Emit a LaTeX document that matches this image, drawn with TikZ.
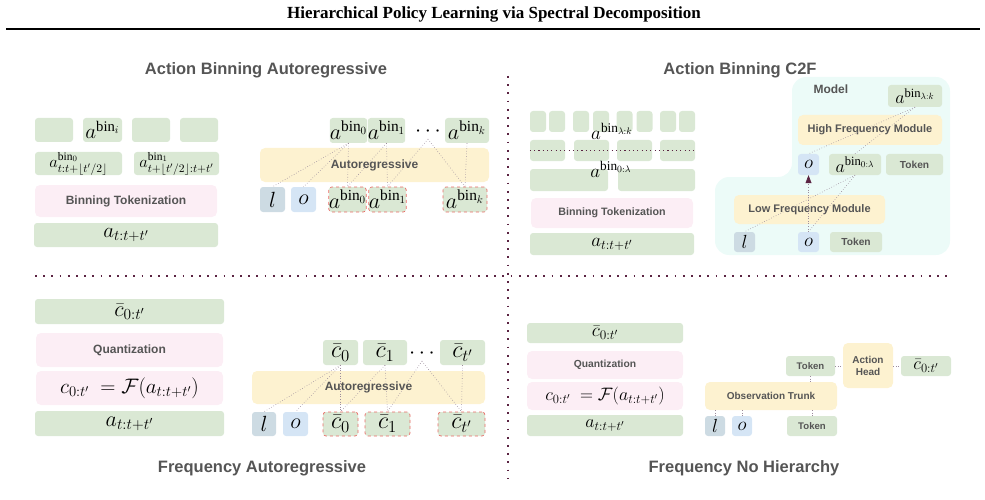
\RequirePackage{fix-cm}
\documentclass[tikz,border=0pt]{standalone}
\usepackage{fontspec}
\setmainfont{Liberation Serif}
\setsansfont{Liberation Sans}
\usetikzlibrary{arrows.meta, positioning}
\definecolor{TokGreen}  {HTML}{DAE8D4}
\definecolor{TokPink}   {HTML}{FCEEF5}
\definecolor{ModYellow} {HTML}{FDF2D0}
\definecolor{LangGray}  {HTML}{CDDBE3}
\definecolor{ObsBlue}   {HTML}{D5E5F5}
\definecolor{ModelCyan} {HTML}{ECFBF8}
\definecolor{MaskRed}   {HTML}{EA6B66}
\definecolor{LinkGray}  {HTML}{9C8C9C}
\definecolor{SepMaroon} {HTML}{5A2342}
\definecolor{LabelGray} {HTML}{555555}
\newcommand{\abin}[1]{a^{\mathrm{bin}_{#1}}}
\newcommand{\cq}[1]{\bar{c}_{#1}}

\begin{document}
\begin{tikzpicture}[x=1pt, y=-1pt,
  boxsize/.style 2 args = {minimum width=#1pt, minimum height=#2pt},
  msz/.style    = {font=\fontsize{#1}{#1}\selectfont},
  lbl/.style    = {font=\sffamily\bfseries\fontsize{#1}{#1}\selectfont, text=LabelGray},
  tok/.style    = {fill=TokGreen, rounded corners=3pt, inner sep=0pt, msz=20},
  lang/.style   = {fill=LangGray, rounded corners=3pt, inner sep=0pt, msz=22},
  obs/.style    = {fill=ObsBlue,  rounded corners=3pt, inner sep=0pt, msz=22},
  mask/.style   = {tok, draw=MaskRed, dashed, line width=0.7pt},
  modbox/.style = {fill=ModYellow, rounded corners=5pt, inner sep=0pt, align=center, lbl=11},
  tkbox/.style  = {fill=TokPink, rounded corners=5pt, inner sep=0pt, lbl=12},
  link/.style   = {LinkGray, dotted, line width=0.6pt},
  sepline/.style= {SepMaroon, line width=1.8pt, dash pattern=on 1.8pt off 6.4pt},
  head/.style   = {lbl=16.5},
]
\useasboundingbox (0,0) rectangle (985,500);

% title and rule
\node[font=\rmfamily\bfseries\fontsize{17}{20}\selectfont] (title) at (494,14)
  {Hierarchical Policy Learning via Spectral Decomposition};
\draw[line width=1.6pt] (6,29) -- (980,29);

% quadrant separators
\draw[sepline] (508,76) -- (508,478);
\draw[sepline] (35,276) -- (950,276);

% headings
\node[head] (hdAR)  at (266,70)  {Action Binning Autoregressive};
\node[head] (hdC2F) at (740,70)  {Action Binning C2F};
\node[head] (hdFAR) at (262,468) {Frequency Autoregressive};
\node[head] (hdFNH) at (744,468) {Frequency No Hierarchy};

% ---- action binning autoregressive: tokenization
\node[tok, boxsize={38}{24}] (bin1) at (54,130) {};
\node[tok, boxsize={39}{24}, msz=21] (bin2) at (102.5,130) {$\abin{i}$};
\node[tok, boxsize={38}{24}] (bin3) at (151,130) {};
\node[tok, boxsize={38}{24}] (bin4) at (199,130) {};
\node[tok, boxsize={87}{23}, msz=16.5] (half0) at (78.5,163.5) {$a^{\mathrm{bin}_0}_{t:t+\lfloor t'/2\rfloor}$};
\node[tok, boxsize={85}{23}, msz=16.5] (half1) at (176.5,163.5) {$a^{\mathrm{bin}_1}_{t+\lfloor t'/2\rfloor:t+t'}$};
\node[tkbox, boxsize={182}{32}] (bintok1) at (126,201) {Binning Tokenization};
\node[tok, boxsize={184}{24}, msz=21] (act1) at (126,235) {$a_{t:t+t'}$};

% ---- action binning autoregressive: model
\node[tok, boxsize={35}{25}, msz=22] (outb0) at (348.5,130.5) {$\abin{0}$};
\node[tok, boxsize={35}{25}, msz=22] (outb1) at (386.5,130.5) {$\abin{1}$};
\node[msz=22, inner sep=2pt] (dotsb) at (428,132) {$\cdots$};
\node[tok, boxsize={44}{25}, msz=22] (outbk) at (467,130.5) {$\abin{k}$};
\node[modbox, boxsize={229}{34}, lbl=12] (arb) at (374.5,165) {Autoregressive};
\node[lang, boxsize={25}{25}] (lb) at (272.5,199.5) {$l$};
\node[obs,  boxsize={25}{25}] (ob) at (303.5,199.5) {$o$};
\node[mask, boxsize={35}{25}, msz=22] (inb0) at (347.5,199.5) {$\abin{0}$};
\node[mask, boxsize={33}{25}, msz=22] (inb1) at (387.5,199.5) {$\abin{1}$};
\node[mask, boxsize={44}{25}, msz=22] (inbk) at (465,199.5) {$\abin{k}$};
\draw[link] (outb0.south) -- (lb.north);
\draw[link] (outb0.south) -- (ob.north);
\draw[link] (outb0.south) -- (inb0.north);
\draw[link] (outb1.south) -- (inb0.north);
\draw[link] (outb1.south) -- (inb1.north);
\draw[link] (dotsb.south) -- (inb1.north);
\draw[link] (dotsb.south) -- (inbk.north);
\draw[link] (outbk.south) -- (inbk.north);

% ---- action binning c2f: tokenization
\foreach \x [count=\i] in {538,557,581,601,624.5,644.5,668,687}
  \node[tok, boxsize={16}{21}] (fine\i) at (\x,121.5) {};
\foreach \x [count=\i] in {547.5,591.5,634.5,677.5}
  \node[tok, boxsize={35}{21}] (mid\i) at (\x,150.5) {};
\node[tok, boxsize={78}{22}] (coarse1) at (569,180) {};
\node[tok, boxsize={77}{22}] (coarse2) at (656.5,180) {};
\draw[SepMaroon, line width=1.1pt, dash pattern=on 1.1pt off 3.2pt] (mid1.west) -- (mid4.east);
\node[msz=19, inner sep=0pt] (hiLbl) at (612,131) {$a^{\mathrm{bin}_{\lambda:k}}$};
\node[msz=19, inner sep=0pt] (loLbl) at (611,169) {$a^{\mathrm{bin}_{0:\lambda}}$};
\node[tkbox, boxsize={162}{30}, lbl=10.7] (bintok2) at (612,213) {Binning Tokenization};
\node[tok, boxsize={164}{22}, msz=19] (act2) at (612,244) {$a_{t:t+t'}$};

% ---- action binning c2f: model
\fill[ModelCyan, rounded corners=14pt] (792,77) -- (950,77) -- (950,255) -- (715,255)
  -- (715,177) -- (792,177) -- cycle;
\node[lbl=12, anchor=west] (model) at (810,89) {Model};
\node[tok, boxsize={54}{22}, msz=18] (hiTok) at (915,96) {$a^{\mathrm{bin}_{\lambda:k}}$};
\node[modbox, boxsize={144}{30}] (hfm) at (870,130) {High Frequency Module};
\node[obs, boxsize={21}{21}, msz=19] (oHi) at (808.5,164.5) {$o$};
\node[tok, boxsize={52}{21}, msz=18] (loTok) at (855,164.5) {$a^{\mathrm{bin}_{0:\lambda}}$};
\node[tok, boxsize={57}{21}, lbl=10.2] (tokHi) at (914.5,164.5) {Token};
\node[modbox, boxsize={151}{29}] (lfm) at (809.5,209.5) {Low Frequency Module};
\node[lang, boxsize={21}{20}, msz=19] (lLo) at (744.5,242) {$l$};
\node[obs,  boxsize={21}{20}, msz=19] (oLo) at (808.5,242) {$o$};
\node[tok, boxsize={52}{20}, lbl=10.2] (tokLo) at (856,242) {Token};
\draw[link] (hiTok.south) -- (oHi.north);
\draw[link] (hiTok.south) -- (loTok.north);
\draw[link] (loTok.south) -- (lLo.north);
\draw[link] (loTok.south) -- (oLo.north);
\draw[link, -{Triangle[length=8pt, width=6pt, color=SepMaroon, fill=SepMaroon]}]
  (oLo.north) -- (oHi.south);

% ---- frequency autoregressive: tokenization
\node[tok, boxsize={189}{25}, msz=22] (cbar1) at (129.5,311.5) {$\cq{0:t'}$};
\node[tkbox, boxsize={187}{34}] (quant1) at (129.5,350) {Quantization};
\node[tkbox, boxsize={187}{34}, msz=21, text=black] (dct1) at (129.5,388)
  {$c_{0:t'}\ =\mathcal{F}(a_{t:t+t'})$};
\node[tok, boxsize={189}{25}, msz=22] (act3) at (129.5,423.5) {$a_{t:t+t'}$};

% ---- frequency autoregressive: model
\node[tok, boxsize={35}{25}, msz=24] (outc0) at (340.5,352.5) {$\cq{0}$};
\node[tok, boxsize={44}{25}, msz=24] (outc1) at (385,352.5) {$\cq{1}$};
\node[msz=22, inner sep=2pt] (dotsc) at (422,354) {$\cdots$};
\node[tok, boxsize={45}{25}, msz=24] (outct) at (462.5,352.5) {$\cq{t'}$};
\node[modbox, boxsize={233}{33}, lbl=12] (arc) at (368.5,387.5) {Autoregressive};
\node[lang, boxsize={24}{24}] (lc) at (264,424) {$l$};
\node[obs,  boxsize={25}{24}] (oc) at (295.5,424) {$o$};
\node[mask, boxsize={35}{24}, msz=24] (inc0) at (340.5,424) {$\cq{0}$};
\node[mask, boxsize={45}{24}, msz=24] (inc1) at (387.5,424) {$\cq{1}$};
\node[mask, boxsize={47}{24}, msz=24] (inct) at (461.5,424) {$\cq{t'}$};
\draw[link] (outc0.south) -- (lc.north);
\draw[link] (outc0.south) -- (oc.north);
\draw[link] (outc0.south) -- (inc0.north);
\draw[link] (outc1.south) -- (inc0.north);
\draw[link] (outc1.south) -- (inc1.north);
\draw[link] (dotsc.south) -- (inc1.north);
\draw[link] (dotsc.south) -- (inct.north);
\draw[link] (outct.south) -- (inct.north);

% ---- frequency no hierarchy: tokenization
\node[tok, boxsize={156}{20}, msz=19] (cbar2) at (605,333) {$\cq{0:t'}$};
\node[tkbox, boxsize={156}{28}, lbl=10.3] (quant2) at (605,365) {Quantization};
\node[tkbox, boxsize={156}{28}, msz=18, text=black] (dct2) at (605,396)
  {$c_{0:t'}\ =\mathcal{F}(a_{t:t+t'})$};
\node[tok, boxsize={156}{21}, msz=18] (act4) at (605,425.5) {$a_{t:t+t'}$};

% ---- frequency no hierarchy: model
\node[tok, boxsize={49}{20}, lbl=9.6] (tokA) at (810.5,366) {Token};
\node[modbox, boxsize={50}{45}, lbl=10] (ahead) at (868,365.5) {Action\\[2pt]Head};
\node[tok, boxsize={50}{20}, msz=18] (cbar3) at (926,366) {$\cq{0:t'}$};
\node[modbox, boxsize={132}{28}, lbl=10] (trunk) at (771,396) {Observation Trunk};
\node[lang, boxsize={20}{20}, msz=19] (ld) at (715,426) {$l$};
\node[obs,  boxsize={20}{20}, msz=19] (od) at (742,426) {$o$};
\node[tok, boxsize={50}{20}, lbl=9.6] (tokB) at (812,426) {Token};
\draw[link] (tokA.east) -- (ahead.west |- tokA.east);
\draw[link] (ahead.east |- cbar3.west) -- (cbar3.west);
\draw[link] (tokA.south) -- (tokA.south |- trunk.north);
\draw[link] (ld.north |- trunk.south) -- (ld.north);
\draw[link] (od.north |- trunk.south) -- (od.north);
\draw[link] (tokB.north |- trunk.south) -- (tokB.north);
\end{tikzpicture}
\end{document}
